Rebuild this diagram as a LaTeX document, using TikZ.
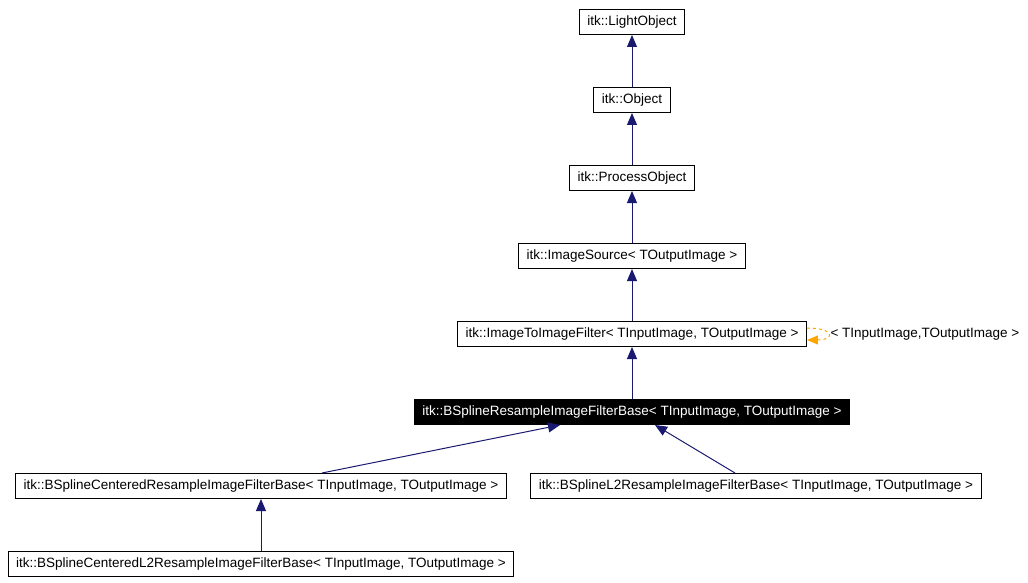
\documentclass[tikz,border=0pt]{standalone}
\usepackage{fontspec}
\setmainfont{Liberation Sans}
\usetikzlibrary{arrows.meta,positioning}
\definecolor{edgeblue}{RGB}{25,25,112}
\definecolor{tmplorange}{RGB}{255,165,0}
\tikzstyle{cls}=[rectangle,draw=black,line width=1pt,fill=white,minimum height=25pt,
inner xsep=8pt,inner ysep=0pt,font=\fontsize{13.5}{15}\selectfont]
\tikzstyle{curcls}=[cls,fill=black,text=white]
\tikzstyle{inh}=[draw=edgeblue,line width=1pt,-{Triangle[length=12pt,width=10pt]}]
\tikzstyle{tmpl}=[draw=tmplorange,line width=1pt,dashed,-{Triangle[length=11pt,width=9pt]}]

\begin{document}
\begin{tikzpicture}[x=1pt,y=-1pt,node distance=52pt]
            \useasboundingbox (0,0) rectangle (1028,583);

            % base chain
            \node[cls] (lo) at (632,22) {itk::LightObject};
            \node[cls, below=of lo] (obj) {itk::Object};
            \node[cls, below=of obj] (po) {itk::ProcessObject};
            \node[cls, below=of po] (isrc) {itk::ImageSource< TOutputImage >};
            \node[cls, below=of isrc] (iti) {itk::ImageToImageFilter< TInputImage, TOutputImage >};
            \node[curcls, below=of iti] (bsr) {itk::BSplineResampleImageFilterBase< TInputImage, TOutputImage >};

            % derived classes
            \node[cls] (cen) at (261,486) {itk::BSplineCenteredResampleImageFilterBase< TInputImage, TOutputImage >};
            \node[cls] (l2) at (756,486) {itk::BSplineL2ResampleImageFilterBase< TInputImage, TOutputImage >};
            \node[cls, below=of cen] (cenl2) {itk::BSplineCenteredL2ResampleImageFilterBase< TInputImage, TOutputImage >};

            \draw[inh] (obj) -- (lo);
            \draw[inh] (po) -- (obj);
            \draw[inh] (isrc) -- (po);
            \draw[inh] (iti) -- (isrc);
            \draw[inh] (bsr) -- (iti);
            \draw[inh] ([xshift=61pt]cen.north) -- ([xshift=-72pt]bsr.south);
            \draw[inh] ([xshift=-21pt]l2.north) -- ([xshift=23pt]bsr.south);
            \draw[inh] (cenl2) -- (cen);

            % template loop
            \draw[tmpl] ([yshift=6pt]iti.east) to[out=0,in=0,looseness=6]
                node[right,inner sep=2pt,font=\fontsize{13.5}{15}\selectfont] (targ) {< TInputImage,TOutputImage >}
                ([yshift=-6pt]iti.east);

        \end{tikzpicture}
\end{document}
